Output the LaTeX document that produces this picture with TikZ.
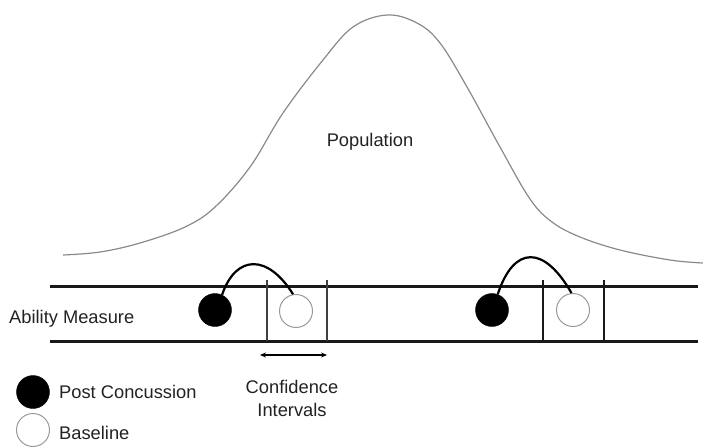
\documentclass[tikz,border=0pt]{standalone}
\usepackage{fontspec}
\setmainfont{Liberation Sans}
\usetikzlibrary{arrows.meta}
\definecolor{txt}{HTML}{222222}
\definecolor{curvegray}{HTML}{8A8A8A}
\begin{document}
\begin{tikzpicture}[x=1pt,y=-1pt,
  lbl/.style={text=txt,font=\fontsize{18.3}{21}\selectfont,inner sep=0pt},
  filled/.style={circle,fill=black,draw=black,minimum size=33pt,inner sep=0pt},
  hollow/.style={circle,fill=white,draw=gray!80,line width=1pt,minimum size=33pt,inner sep=0pt},
  rail/.style={line width=3pt,black!90},
  thinbar/.style={line width=1.6pt,black!75},
  thickbar/.style={line width=2.6pt,black!90},
  hump/.style={line width=2.2pt,black}]
\useasboundingbox (0,0) rectangle (703,447);
% population curve
\draw[curvegray,line width=1.2pt] plot[smooth,tension=0.6] coordinates {
 (63,255) (100,252) (140,243) (185,227) (215,207) (250,167) (283,113) (323,60)
 (353,27) (387,15) (417,23) (440,43) (467,87) (500,147) (530,199) (552,222)
 (580,237) (620,250) (670,260) (703,263)};
\node[lbl] (pop) at (370,142) {Population};
% rails
\coordinate (r1a) at (50,286); \coordinate (r1b) at (698,286);
\coordinate (r2a) at (50,341); \coordinate (r2b) at (698,341);
\draw[rail] (r1a) -- (r1b);
\draw[rail] (r2a) -- (r2b);
% confidence interval bars
\coordinate (v1t) at (267,280); \coordinate (v1b) at (267,341);
\coordinate (v2t) at (327,280); \coordinate (v2b) at (327,341);
\coordinate (v3t) at (543,280); \coordinate (v3b) at (543,341);
\coordinate (v4t) at (604,280); \coordinate (v4b) at (604,341);
\draw[thinbar] (v1t) -- (v1b);
\draw[thinbar] (v2t) -- (v2b);
\draw[thickbar] (v3t) -- (v3b);
\draw[thickbar] (v4t) -- (v4b);
% circles
\node[filled] (pc1) at (215,310) {};
\node[hollow] (b1) at (296,311) {};
\node[filled] (pc2) at (492,310) {};
\node[hollow] (b2) at (573,310) {};
% humps
\draw[hump] (pc1.65) .. controls (236,254) and (268,254) .. (b1.100);
\draw[hump] (pc2.70) .. controls (514,245) and (544,245) .. (b2.95);
% labels
\node[lbl,anchor=west] (abil) at (9,319) {Ability Measure};
\coordinate (ca) at (260,355); \coordinate (cb) at (327,355);
\draw[{Stealth[length=6pt,width=5pt]}-{Stealth[length=6pt,width=5pt]},line width=1.2pt] (ca) -- (cb);
\node[lbl,align=center] (ci) at (292,398) {Confidence\\[2pt]Intervals};
% legend
\node[filled] (lpc) at (33,392) {};
\node[hollow] (lb) at (33,430) {};
\node[lbl,anchor=west] (lpct) at (59,392) {Post Concussion};
\node[lbl,anchor=west] (lbt) at (59,433) {Baseline};
\end{tikzpicture}
\end{document}
